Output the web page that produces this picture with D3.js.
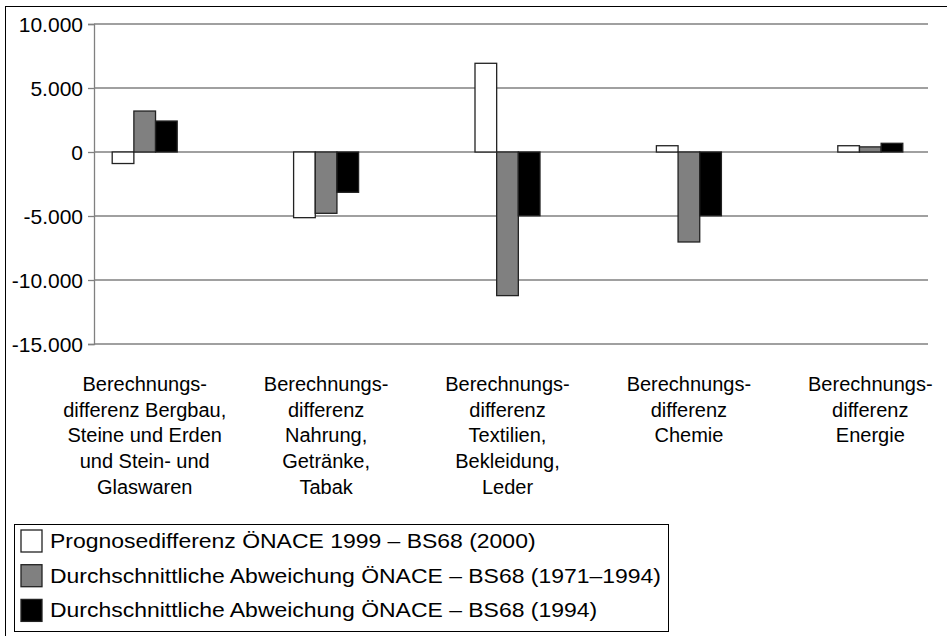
<!DOCTYPE html>
<html>
<head>
<meta charset="utf-8">
<script src="https://cdn.jsdelivr.net/npm/d3@7"></script>
<style>
  body { margin: 0; background: #fff; }
  text { font-family: "Liberation Sans", Arial, sans-serif; fill: #000; }
</style>
</head>
<body>
<div class="drawBoard"></div>
<script>
// data
const categories = [
  ["Berechnungs-", "differenz Bergbau,", "Steine und Erden", "und Stein- und", "Glaswaren"],
  ["Berechnungs-", "differenz", "Nahrung,", "Getränke,", "Tabak"],
  ["Berechnungs-", "differenz", "Textilien,", "Bekleidung,", "Leder"],
  ["Berechnungs-", "differenz", "Chemie"],
  ["Berechnungs-", "differenz", "Energie"]
];
const seriesNames = [
  "Prognosedifferenz ÖNACE 1999 – BS68 (2000)",
  "Durchschnittliche Abweichung ÖNACE – BS68 (1971–1994)",
  "Durchschnittliche Abweichung ÖNACE – BS68 (1994)"
];
const prognose2000 = [-900, -5130, 6930, 490, 490];
const abweichung7194 = [3200, -4790, -11220, -7030, 400];
const abweichung94 = [2420, -3150, -4980, -4980, 680];
const yTicks = [10000, 5000, 0, -5000, -10000, -15000];
const fills = ["#ffffff", "#808080", "#000000"];

const series = [prognose2000, abweichung7194, abweichung94];

const drawingBoard = d3.select('.drawBoard');
const svg = drawingBoard.append('svg')
  .attr('width', 947)
  .attr('height', 636);

// outer frame (right/bottom edges fall outside the picture)
svg.append('rect')
  .attr('x', 5.5).attr('y', 6.5)
  .attr('width', 960).attr('height', 650)
  .attr('fill', 'none').attr('stroke', '#000').attr('stroke-width', 1);

const plotLeft = 94, plotRight = 928;
const y = d3.scaleLinear().domain([-15000, 10000]).range([344, 24]);
const x = d3.scaleBand().domain(d3.range(categories.length)).range([54, 961]);
const xs = d3.scaleBand().domain(d3.range(series.length))
  .range([x.bandwidth() / 2 - 32.5, x.bandwidth() / 2 + 32.5]);

// 10.000 / -5.000 style, with a plain hyphen
const fmt = v => d3.format(',')(v).replace(/,/g, '.').replace('\u2212', '-');

// gridlines
svg.append('g').selectAll('line').data(yTicks).join('line')
  .attr('x1', plotLeft).attr('x2', plotRight)
  .attr('y1', d => y(d)).attr('y2', d => y(d))
  .attr('stroke', '#808080').attr('stroke-width', 1.3);

// y axis
const yAxis = svg.append('g')
  .attr('transform', `translate(${plotLeft},0)`)
  .call(d3.axisLeft(y).tickValues(yTicks).tickFormat(fmt).tickSize(6).tickPadding(5));
yAxis.select('.domain').attr('stroke', '#808080').attr('stroke-width', 1.3);
yAxis.selectAll('.tick line').attr('stroke', '#808080').attr('stroke-width', 1.3);
yAxis.selectAll('.tick text')
  .style('font-family', '"Liberation Sans", Arial, sans-serif')
  .style('font-size', '21px').attr('fill', '#000').attr('dy', '0.36em');

// bars
series.forEach((vals, s) => {
  svg.append('g').selectAll('rect').data(vals).join('rect')
    .attr('x', (d, i) => x(i) + xs(s))
    .attr('width', xs.bandwidth())
    .attr('y', d => y(Math.max(0, d)))
    .attr('height', d => Math.abs(y(d) - y(0)))
    .attr('fill', fills[s])
    .attr('stroke', '#222').attr('stroke-width', 1.3);
});

// category labels
const catG = svg.append('g');
categories.forEach((lines, i) => {
  const t = catG.append('text')
    .attr('text-anchor', 'middle')
    .style('font-size', '20px');
  lines.forEach((ln, j) => {
    t.append('tspan')
      .attr('x', x(i) + x.bandwidth() / 2)
      .attr('y', 391 + j * 25.7)
      .text(ln);
  });
});

// legend
const legend = svg.append('g');
legend.append('rect')
  .attr('x', 14.5).attr('y', 524.5)
  .attr('width', 654).attr('height', 107)
  .attr('fill', '#fff').attr('stroke', '#000').attr('stroke-width', 1);
seriesNames.forEach((name, s) => {
  const cy = 541 + s * 34.7;
  legend.append('rect')
    .attr('x', 21).attr('y', cy - 11)
    .attr('width', 21).attr('height', 22)
    .attr('fill', fills[s]).attr('stroke', '#222').attr('stroke-width', 1.3);
  legend.append('text')
    .attr('transform', `translate(50,${cy + 7}) scale(1.12,1)`)
    .style('font-size', '20.5px')
    .text(name);
});
</script>
</body>
</html>
